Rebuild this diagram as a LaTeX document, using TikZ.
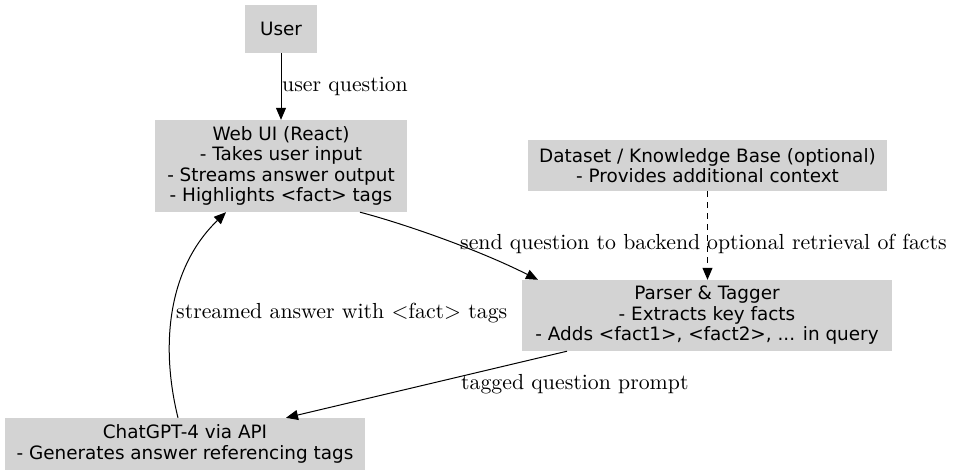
\documentclass[tikz,border=0pt]{standalone}
\usepackage{fontspec}
\newfontfamily\boxfont{DejaVu Sans}
\newfontfamily\lblfont{lmroman10-regular}[Extension=.otf]
\usetikzlibrary{arrows.meta}

\definecolor{boxgray}{RGB}{211,211,211}

\tikzset{
	box/.style={fill=boxgray, draw=none, align=center, inner sep=0pt,
		font=\boxfont\fontsize{18.4}{20.5}\selectfont},
	lbl/.style={anchor=west, inner sep=0pt, font=\lblfont\fontsize{21.8}{26}\selectfont},
	arr/.style={-{Triangle[length=12pt,width=10pt]}, line width=1pt},
}

\begin{document}
\begin{tikzpicture}[x=1pt,y=-1pt]
		\useasboundingbox (0,0) rectangle (955,475);
		
		\node[box, minimum width=72pt, minimum height=48pt] (user) at (281,29) {User};
		\node[box, minimum width=252pt, minimum height=92pt] (web) at (281,166) {Web UI (React)\\- Takes user input\\- Streams answer output\\- Highlights <fact> tags};
		\node[box, minimum width=359pt, minimum height=51pt] (data) at (707.5,165.5) {Dataset / Knowledge Base (optional)\\- Provides additional context};
		\node[box, minimum width=370pt, minimum height=71pt] (parser) at (707,315.5) {Parser \& Tagger\\- Extracts key facts\\- Adds <fact1>, <fact2>, ... in query};
		\node[box, minimum width=360pt, minimum height=52pt] (gpt) at (185,444) {ChatGPT-4 via API\\- Generates answer referencing tags};
		
		\draw[arr] (user) -- (web);
		\draw[arr] ([xshift=79pt]web.south) .. controls (398,222) and (475,248) .. ([xshift=-169pt]parser.north);
		\draw[arr, dash pattern=on 6pt off 5pt] (data.south) -- (data.south |- parser.north);
		\draw[arr] ([xshift=-140pt]parser.south) -- ([xshift=101pt]gpt.north);
		\draw[arr] ([xshift=-7pt]gpt.north) .. controls (160,345) and (168,268) .. ([xshift=-55pt]web.south);
		
		\node[lbl] (l1) at (282,86) {user question};
		\node[lbl] (l2) at (460,244) {send question to backend};
		\node[lbl] (l3) at (707,244) {optional retrieval of facts};
		\node[lbl] (l4) at (176,313) {streamed answer with <fact> tags};
		\node[lbl] (l5) at (461,384) {tagged question prompt};
	\end{tikzpicture}
\end{document}
